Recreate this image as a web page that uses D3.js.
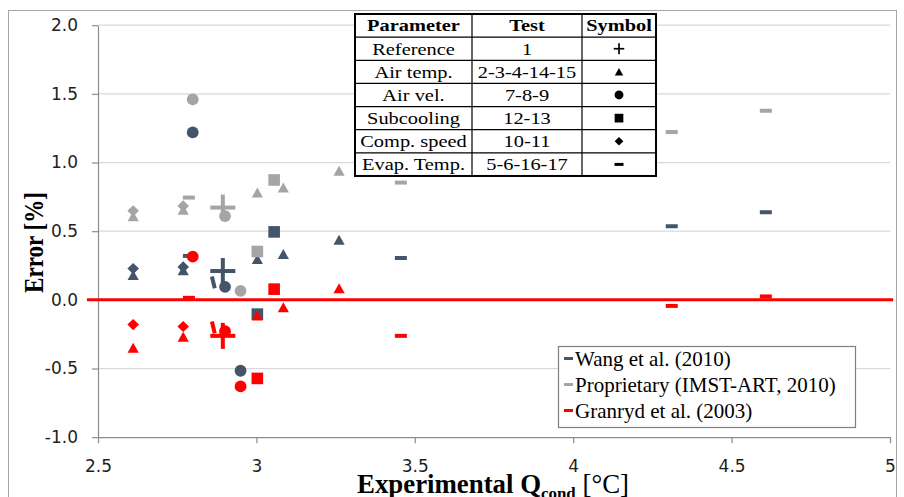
<!DOCTYPE html>
<html><head><meta charset="utf-8">
<script src="https://cdn.jsdelivr.net/npm/d3@7/dist/d3.min.js"></script>
<style>body{margin:0;background:#fff}svg{display:block}</style>
</head><body>
<svg id="c" width="904" height="497"></svg>
<script>
// ---------- data ----------
const xTicks = [2.5, 3, 3.5, 4, 4.5, 5];
const yTicks = [-1, -0.5, 0, 0.5, 1, 1.5, 2];
const seriesNames = ["Wang et al. (2010)", "Proprietary (IMST-ART, 2010)", "Granryd et al. (2003)"];
const seriesColors = ["#44546a", "#a5a5a5", "#ff0000"];

// Air temp. (triangles) tests 2-3-4-14-15
const airTempX    = [2.611, 2.769, 3.003, 3.085, 3.261];
const airTempWang = [0.18, 0.215, 0.296, 0.332, 0.436];
const airTempProp = [0.607, 0.655, 0.78, 0.817, 0.938];
const airTempGran = [-0.35, -0.27, -0.116, -0.055, 0.083];

// Comp. speed (diamonds) tests 10-11
const compX    = [2.611, 2.769];
const compWang = [0.228, 0.24];
const compProp = [0.648, 0.684];
const compGran = [-0.18, -0.194];

// Subcooling (squares) tests 12-13
const subX    = [3.003, 3.056];
const subWang = [-0.104, 0.495];
const subProp = [0.352, 0.873];
const subGran = [-0.572, 0.078];

// Air vel. (circles) tests 7-8-9
const velX    = [2.799, 2.901, 2.95];
const velWang = [1.22, 0.095, -0.516];
const velProp = [1.46, 0.61, 0.065];
const velGran = [0.315, -0.228, -0.63];

// Evap. Temp. (dashes) tests 5-6-16-17
const evapX    = [2.787, 2.864, 3.456, 4.311, 4.608];
const evapWang = [0.32, 0.127, 0.305, 0.536, 0.638];
const evapProp = [0.745, null, 0.854, 1.222, 1.377];
const evapGran = [0.015, -0.2, -0.262, -0.044, 0.025];

// Reference (cross) test 1
const refX    = [2.894];
const refWang = [0.21];
const refProp = [0.672];
const refGran = [-0.262];

const zeroLineX = [2.465, 5.01];

const tableHeader = ["Parameter", "Test", "Symbol"];
const tableParams = ["Reference", "Air temp.", "Air vel.", "Subcooling", "Comp. speed", "Evap. Temp."];
const tableTests  = ["1", "2-3-4-14-15", "7-8-9", "12-13", "10-11", "5-6-16-17"];
const tableSymbols = ["cross", "triangle", "circle", "square", "diamond", "dash"];

// ---------- drawing ----------
const svg = d3.select("#c");
const x = d3.scaleLinear().domain([2.5, 5]).range([98, 890]);
const y = d3.scaleLinear().domain([-1, 2]).range([437.2, 25.2]);

// chart frame
svg.append("rect").attr("x", 8.5).attr("y", 10.5).attr("width", 888).attr("height", 520)
  .attr("fill", "none").attr("stroke", "#a6a6a6").attr("stroke-width", 1);

// gridlines
svg.append("g").selectAll("line").data(yTicks.filter(d => d > -1)).join("line")
  .attr("x1", x(2.5)).attr("x2", x(5))
  .attr("y1", d => y(d)).attr("y2", d => y(d))
  .attr("stroke", "#d9d9d9").attr("stroke-width", 1.2);

// axes
const gy = svg.append("g").attr("transform", `translate(${x(2.5)},0)`)
  .call(d3.axisLeft(y).tickValues(yTicks).tickFormat(d => d.toFixed(1)).tickSize(6).tickSizeOuter(0).tickPadding(14));
const gx = svg.append("g").attr("transform", `translate(0,${y(-1)})`)
  .call(d3.axisBottom(x).tickValues(xTicks).tickFormat(d => String(d)).tickSize(6).tickSizeOuter(0).tickPadding(17));
[gx, gy].forEach(g => {
  g.attr("font-family", "DejaVu Sans").attr("font-size", 17);
  g.select(".domain").attr("stroke", "#8c8c8c").attr("stroke-width", 1.2);
  g.selectAll(".tick line").attr("stroke", "#8c8c8c").attr("stroke-width", 1.2);
  g.selectAll(".tick text").attr("fill", "#1e1e1e");
});

// zero line
svg.append("line")
  .attr("x1", x(zeroLineX[0])).attr("x2", x(zeroLineX[1]))
  .attr("y1", y(0)).attr("y2", y(0))
  .attr("stroke", "#ff0000").attr("stroke-width", 3);

// marker drawing
function marker(g, type, cx, cy, color, s, angle) {
  const k = s || 1;
  const t = g.append("g").attr("transform", `translate(${cx},${cy})` + (angle ? ` rotate(${angle})` : ""));
  if (type === "triangle") {
    t.append("path").attr("d", `M0,${-5.2*k}L${5.6*k},${4.8*k}L${-5.6*k},${4.8*k}Z`).attr("fill", color);
  } else if (type === "diamond") {
    t.append("path").attr("d", `M0,${-5.6*k}L${5.8*k},0L0,${5.6*k}L${-5.8*k},0Z`).attr("fill", color);
  } else if (type === "square") {
    t.append("rect").attr("x", -5.8*k).attr("y", -5.8*k).attr("width", 11.6*k).attr("height", 11.6*k).attr("fill", color);
  } else if (type === "circle") {
    t.append("circle").attr("r", 5.9*k).attr("fill", color);
  } else if (type === "dash") {
    t.append("rect").attr("x", -6*k).attr("y", -2*k).attr("width", 12*k).attr("height", 4*k).attr("fill", color);
  } else if (type === "cross") {
    t.append("rect").attr("x", -12.5*k).attr("y", -2*k).attr("width", 25*k).attr("height", 4*k).attr("fill", color);
    t.append("rect").attr("x", -2*k).attr("y", -13*k).attr("width", 4*k).attr("height", 26*k).attr("fill", color);
  }
}

const groups = [
  {type: "triangle", xs: airTempX, ys: [airTempWang, airTempProp, airTempGran]},
  {type: "diamond",  xs: compX,    ys: [compWang, compProp, compGran]},
  {type: "square",   xs: subX,     ys: [subWang, subProp, subGran]},
  {type: "circle",   xs: velX,     ys: [velWang, velProp, velGran]},
  {type: "dash",     xs: evapX,    ys: [evapWang, evapProp, evapGran]},
  {type: "cross",    xs: refX,     ys: [refWang, refProp, refGran]}
];
const gPts = svg.append("g");
seriesNames.forEach((name, si) => {
  groups.forEach(gr => {
    gr.xs.forEach((xv, i) => {
      const yv = gr.ys[si][i];
      if (yv == null) return;
      const ang = (gr.type === "dash" && i === 1) ? 76 : 0;
      marker(gPts, gr.type, x(xv), y(yv), seriesColors[si], 1, ang);
    });
  });
});

// text helper (horizontal scale)
function scaledText(g, str, cx, baseline, size, weight, sx) {
  return g.append("text").attr("transform", `translate(${cx},${baseline}) scale(${sx},1)`)
    .attr("text-anchor", "middle").attr("font-family", "Liberation Serif")
    .attr("font-size", size).attr("font-weight", weight).attr("fill", "#000").text(str);
}

// ---------- parameter table ----------
const tg = svg.append("g");
const colX = [355, 472, 582, 656];
const tTop = 14, rowH = 23.14, nRows = 7;
tg.append("rect").attr("x", colX[0]).attr("y", tTop).attr("width", colX[3] - colX[0]).attr("height", rowH * nRows)
  .attr("fill", "#fff").attr("stroke", "none");
for (let r = 1; r < nRows; r++) {
  tg.append("line").attr("x1", colX[0]).attr("x2", colX[3]).attr("y1", tTop + r * rowH).attr("y2", tTop + r * rowH)
    .attr("stroke", "#000").attr("stroke-width", 1.2);
}
[1, 2].forEach(c => tg.append("line").attr("x1", colX[c]).attr("x2", colX[c]).attr("y1", tTop).attr("y2", tTop + rowH * nRows)
  .attr("stroke", "#000").attr("stroke-width", 1.2));
tg.append("rect").attr("x", colX[0]).attr("y", tTop).attr("width", colX[3] - colX[0]).attr("height", rowH * nRows)
  .attr("fill", "none").attr("stroke", "#000").attr("stroke-width", 2);
const colC = [(colX[0] + colX[1]) / 2, (colX[1] + colX[2]) / 2, (colX[2] + colX[3]) / 2];
tableHeader.forEach((h, c) => scaledText(tg, h, colC[c], tTop + rowH / 2 + 5.8, 17, "bold", 1.2));
tableParams.forEach((p, r) => {
  const cy = tTop + (r + 1.5) * rowH;
  scaledText(tg, p, colC[0], cy + 5.8, 17, "normal", 1.2);
  scaledText(tg, tableTests[r], colC[1], cy + 5.8, 17, "normal", 1.2);
  marker(tg, tableSymbols[r], colC[2], cy, "#000", tableSymbols[r] === "cross" ? 0.42 : 0.75);
});

// ---------- legend ----------
const lg = svg.append("g");
lg.append("rect").attr("x", 558.5).attr("y", 346.5).attr("width", 297).attr("height", 81)
  .attr("fill", "#fff").attr("stroke", "#7f7f7f").attr("stroke-width", 1.2);
seriesNames.forEach((n, i) => {
  const base = 365.5 + i * 26;
  lg.append("rect").attr("x", 564).attr("y", base - 8.5).attr("width", 9).attr("height", 3).attr("fill", seriesColors[i]);
  lg.append("text").attr("x", 575).attr("y", base).attr("font-family", "Liberation Serif")
    .attr("font-size", 21).attr("fill", "#000").text(n);
});

// ---------- axis titles ----------
const yl = svg.append("text").attr("text-anchor", "middle").attr("font-family", "Liberation Serif")
  .attr("font-size", 27).attr("font-weight", "bold").attr("fill", "#000").text("Error [%]");
const ylw = yl.node().getComputedTextLength();
yl.attr("transform", `translate(43,242.5) rotate(-90) scale(${101 / ylw},1)`);

const xl = svg.append("text").attr("text-anchor", "middle").attr("font-family", "Liberation Serif")
  .attr("font-size", 27).attr("fill", "#000");
xl.append("tspan").attr("font-weight", "bold").text("Experimental Q");
xl.append("tspan").attr("font-weight", "bold").attr("font-size", 17).attr("dy", 6).text("cond");
xl.append("tspan").attr("dy", -6).text(" [°C]");
const xlw = xl.node().getComputedTextLength();
xl.attr("transform", `translate(493,493) scale(${272 / xlw},1)`);
</script>
</body></html>
